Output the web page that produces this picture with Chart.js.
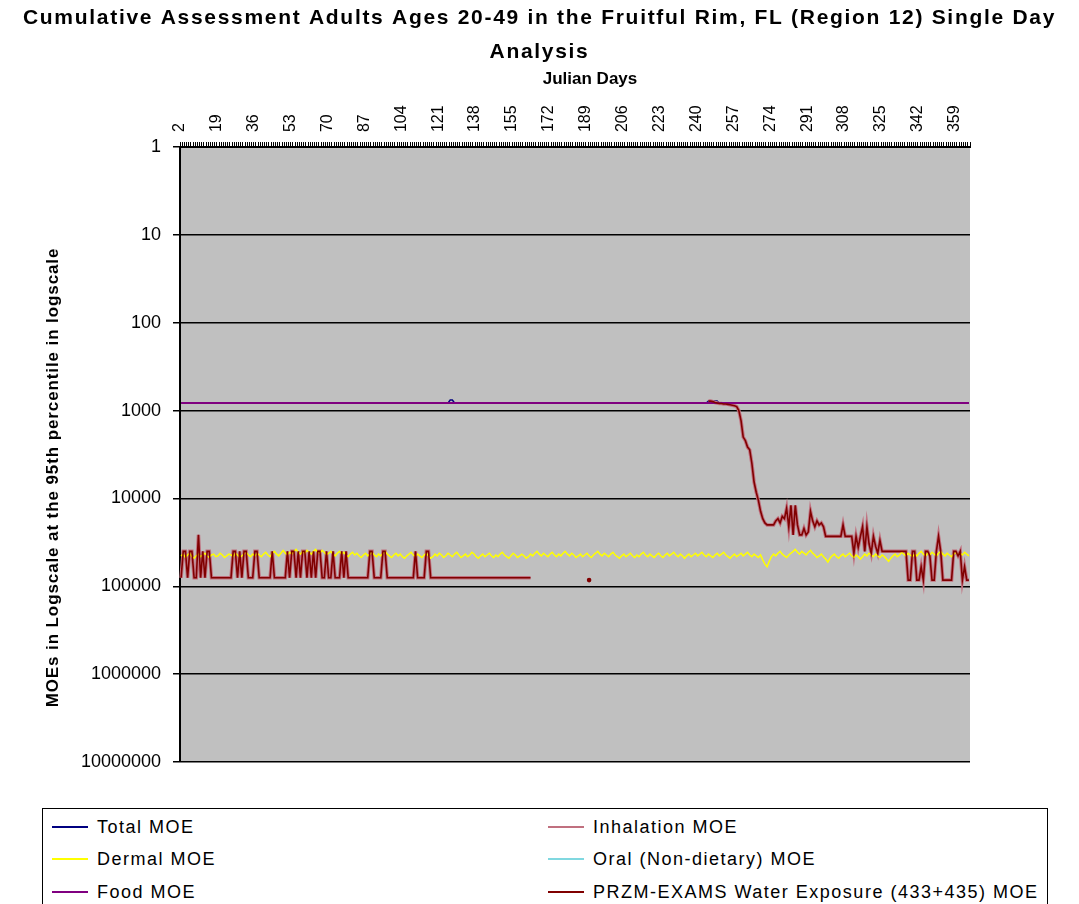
<!DOCTYPE html>
<html><head><meta charset="utf-8">
<script src="https://cdn.jsdelivr.net/npm/chart.js@4.4.1/dist/chart.umd.min.js"></script>
<style>
html,body{margin:0;padding:0;background:#fff;}
#wrap{position:relative;width:1079px;height:904px;overflow:hidden;}
#c{position:absolute;left:0;top:0;}
#legend{position:absolute;left:42px;top:808px;width:1006px;height:130px;border:1.5px solid #000;box-sizing:border-box;background:#fff;font-family:"Liberation Sans",Arial,sans-serif;font-size:18px;letter-spacing:1.5px;color:#000;}
.item{position:absolute;height:22px;line-height:22px;white-space:nowrap;}
.item .ln{position:absolute;left:0;top:10px;width:36px;height:0;border-top:2px solid;}
.item .tx{position:absolute;left:45px;top:0;}
</style></head>
<body>
<div id="wrap">
<canvas id="c" width="1079" height="904"></canvas>
<div id="legend"></div>
</div>
<script>
const titleLines = ["Cumulative Assessment Adults Ages 20-49 in the Fruitful Rim, FL (Region 12) Single Day", "Analysis"];
const xTitle = "Julian Days";
const yTitle = "MOEs in Logscale at the 95th percentile in logscale";

const julianDays = [
2,3,4,5,6,7,8,9,10,11,12,13,14,15,16,17,18,19,20,21,
22,23,24,25,26,27,28,29,30,31,32,33,34,35,36,37,38,39,40,41,
42,43,44,45,46,47,48,49,50,51,52,53,54,55,56,57,58,59,60,61,
62,63,64,65,66,67,68,69,70,71,72,73,74,75,76,77,78,79,80,81,
82,83,84,85,86,87,88,89,90,91,92,93,94,95,96,97,98,99,100,101,
102,103,104,105,106,107,108,109,110,111,112,113,114,115,116,117,118,119,120,121,
122,123,124,125,126,127,128,129,130,131,132,133,134,135,136,137,138,139,140,141,
142,143,144,145,146,147,148,149,150,151,152,153,154,155,156,157,158,159,160,161,
162,163,164,165,166,167,168,169,170,171,172,173,174,175,176,177,178,179,180,181,
182,183,184,185,186,187,188,189,190,191,192,193,194,195,196,197,198,199,200,201,
202,203,204,205,206,207,208,209,210,211,212,213,214,215,216,217,218,219,220,221,
222,223,224,225,226,227,228,229,230,231,232,233,234,235,236,237,238,239,240,241,
242,243,244,245,246,247,248,249,250,251,252,253,254,255,256,257,258,259,260,261,
262,263,264,265,266,267,268,269,270,271,272,273,274,275,276,277,278,279,280,281,
282,283,284,285,286,287,288,289,290,291,292,293,294,295,296,297,298,299,300,301,
302,303,304,305,306,307,308,309,310,311,312,313,314,315,316,317,318,319,320,321,
322,323,324,325,326,327,328,329,330,331,332,333,334,335,336,337,338,339,340,341,
342,343,344,345,346,347,348,349,350,351,352,353,354,355,356,357,358,359,360,361,
362,363,364,365];

const xTickLabels = [2,19,36,53,70,87,104,121,138,155,172,189,206,223,240,257,274,291,308,325,342,359];
const yTickValues = [1,10,100,1000,10000,100000,1000000,10000000];

const totalMOE = [
820,820,820,820,820,820,820,820,820,820,820,820,820,820,820,820,820,820,820,820,
820,820,820,820,820,820,820,820,820,820,820,820,820,820,820,820,820,820,820,820,
820,820,820,820,820,820,820,820,820,820,820,820,820,820,820,820,820,820,820,820,
820,820,820,820,820,820,820,820,820,820,820,820,820,820,820,820,820,820,820,820,
820,820,820,820,820,820,820,820,820,820,820,820,820,820,820,820,820,820,820,820,
820,820,820,820,820,820,820,820,820,820,820,820,820,820,820,820,820,820,820,820,
820,820,820,820,760,760,820,820,820,820,820,820,820,820,820,820,820,820,820,820,
820,820,820,820,820,820,820,820,820,820,820,820,820,820,820,820,820,820,820,820,
820,820,820,820,820,820,820,820,820,820,820,820,820,820,820,820,820,820,820,820,
820,820,820,820,820,820,820,820,820,820,820,820,820,820,820,820,820,820,820,820,
820,820,820,820,820,820,820,820,820,820,820,820,820,820,820,820,820,820,820,820,
820,820,820,820,820,820,820,820,820,820,820,820,820,820,820,820,820,820,820,820,
820,820,820,780,780,780,780,780,820,820,820,820,820,820,820,820,820,820,820,820,
820,820,820,820,820,820,820,820,820,820,820,820,820,820,820,820,820,820,820,820,
820,820,820,820,820,820,820,820,820,820,820,820,820,820,820,820,820,820,820,820,
820,820,820,820,820,820,820,820,820,820,820,820,820,820,820,820,820,820,820,820,
820,820,820,820,820,820,820,820,820,820,820,820,820,820,820,820,820,820,820,820,
820,820,820,820,820,820,820,820,820,820,820,820,820,820,820,820,820,820,820,820,
820,820,820,820];

const dermalMOE = [
45000,43000,47000,44000,42000,46000,48000,45000,43000,46000,44000,42000,45000,47000,44000,43000,46000,45000,42000,44000,
47000,45000,43000,44000,46000,42000,44000,47000,45000,43000,41000,44000,46000,43000,45000,42000,44000,46000,43000,41000,
44000,46000,42000,40000,43000,45000,42000,39000,42000,44000,41000,43000,40000,38000,41000,43000,40000,42000,39000,41000,
43000,40000,38000,41000,42000,39000,41000,44000,42000,40000,43000,45000,42000,40000,43000,41000,44000,46000,43000,41000,
44000,42000,45000,47000,44000,42000,45000,43000,41000,44000,46000,43000,45000,42000,40000,43000,45000,47000,44000,42000,
45000,43000,46000,48000,45000,43000,41000,44000,46000,43000,45000,47000,44000,42000,45000,48000,46000,43000,45000,42000,
44000,47000,45000,42000,44000,46000,43000,41000,44000,47000,45000,43000,46000,44000,41000,43000,46000,48000,45000,43000,
46000,44000,42000,45000,47000,44000,46000,43000,41000,44000,46000,48000,45000,42000,44000,47000,45000,43000,45000,48000,
46000,43000,45000,42000,40000,43000,45000,42000,44000,46000,43000,41000,44000,46000,43000,45000,42000,40000,43000,45000,
42000,44000,47000,45000,43000,46000,44000,42000,45000,47000,44000,42000,40000,43000,45000,42000,44000,46000,43000,41000,
44000,46000,48000,45000,43000,46000,44000,42000,45000,47000,44000,46000,43000,41000,44000,46000,43000,45000,47000,44000,
42000,45000,47000,44000,42000,45000,43000,41000,44000,46000,43000,45000,48000,45000,43000,46000,44000,42000,45000,43000,
41000,44000,46000,43000,45000,47000,44000,42000,45000,43000,41000,44000,46000,48000,45000,43000,46000,44000,42000,45000,
43000,41000,44000,46000,43000,45000,47000,44000,50000,56000,60000,52000,46000,43000,45000,42000,40000,43000,45000,47000,
44000,42000,40000,38000,41000,43000,40000,42000,44000,41000,39000,42000,44000,47000,45000,43000,46000,49000,53000,48000,
45000,43000,46000,48000,45000,43000,46000,44000,42000,45000,47000,44000,46000,49000,46000,43000,45000,42000,44000,46000,
43000,45000,47000,44000,46000,49000,52000,48000,45000,43000,46000,44000,41000,43000,45000,42000,44000,46000,43000,45000,
42000,40000,43000,45000,42000,44000,41000,43000,45000,42000,40000,43000,45000,42000,44000,46000,43000,41000,44000,42000,
44000,41000,43000,45000];

const foodMOE = [
820,820,820,820,820,820,820,820,820,820,820,820,820,820,820,820,820,820,820,820,
820,820,820,820,820,820,820,820,820,820,820,820,820,820,820,820,820,820,820,820,
820,820,820,820,820,820,820,820,820,820,820,820,820,820,820,820,820,820,820,820,
820,820,820,820,820,820,820,820,820,820,820,820,820,820,820,820,820,820,820,820,
820,820,820,820,820,820,820,820,820,820,820,820,820,820,820,820,820,820,820,820,
820,820,820,820,820,820,820,820,820,820,820,820,820,820,820,820,820,820,820,820,
820,820,820,820,820,820,820,820,820,820,820,820,820,820,820,820,820,820,820,820,
820,820,820,820,820,820,820,820,820,820,820,820,820,820,820,820,820,820,820,820,
820,820,820,820,820,820,820,820,820,820,820,820,820,820,820,820,820,820,820,820,
820,820,820,820,820,820,820,820,820,820,820,820,820,820,820,820,820,820,820,820,
820,820,820,820,820,820,820,820,820,820,820,820,820,820,820,820,820,820,820,820,
820,820,820,820,820,820,820,820,820,820,820,820,820,820,820,820,820,820,820,820,
820,820,820,820,820,820,820,820,820,820,820,820,820,820,820,820,820,820,820,820,
820,820,820,820,820,820,820,820,820,820,820,820,820,820,820,820,820,820,820,820,
820,820,820,820,820,820,820,820,820,820,820,820,820,820,820,820,820,820,820,820,
820,820,820,820,820,820,820,820,820,820,820,820,820,820,820,820,820,820,820,820,
820,820,820,820,820,820,820,820,820,820,820,820,820,820,820,820,820,820,820,820,
820,820,820,820,820,820,820,820,820,820,820,820,820,820,820,820,820,820,820,820,
820,820,820,820];

const przmWaterMOE = [
8e4,4e4,4e4,8e4,4e4,4e4,8e4,8e4,2.6e4,8e4,4e4,8e4,4e4,4e4,8e4,8e4,8e4,8e4,8e4,8e4,
8e4,8e4,8e4,8e4,4e4,4e4,8e4,4e4,8e4,4e4,4e4,8e4,8e4,8e4,4e4,4e4,8e4,8e4,8e4,8e4,
8e4,8e4,4e4,8e4,8e4,8e4,8e4,8e4,8e4,4e4,8e4,4e4,4e4,8e4,4e4,8e4,4e4,4e4,8e4,4e4,
8e4,4e4,8e4,4e4,4e4,8e4,8e4,4e4,8e4,8e4,4e4,8e4,8e4,8e4,4e4,8e4,4e4,8e4,8e4,8e4,
8e4,8e4,8e4,8e4,8e4,8e4,8e4,4e4,4e4,8e4,8e4,8e4,8e4,4e4,4e4,8e4,8e4,8e4,8e4,8e4,
8e4,8e4,8e4,8e4,8e4,8e4,8e4,8e4,4e4,8e4,8e4,8e4,8e4,4e4,4e4,8e4,8e4,8e4,8e4,8e4,
8e4,8e4,8e4,8e4,8e4,8e4,8e4,8e4,8e4,8e4,8e4,8e4,8e4,8e4,8e4,8e4,8e4,8e4,8e4,8e4,
8e4,8e4,8e4,8e4,8e4,8e4,8e4,8e4,8e4,8e4,8e4,8e4,8e4,8e4,8e4,8e4,8e4,8e4,8e4,8e4,
8e4,8e4,null,null,null,null,null,null,null,null,null,null,null,null,null,null,null,null,null,null,
null,null,null,null,null,null,null,null,8.5e4,null,null,null,null,null,null,null,null,null,null,null,
null,null,null,null,null,null,null,null,null,null,null,null,null,null,null,null,null,null,null,null,
null,null,null,null,null,null,null,null,null,null,null,null,null,null,null,null,null,null,null,null,
null,null,null,780,780,790,810,820,830,830,840,840,850,860,870,880,900,1000,1300,2000,
2200,2600,2800,4000,6500,8500,10500,14000,17000,19000,20000,20000,20000,20000,18000,17000,19000,16000,17000,13000,
21000,12000,26000,12000,20000,26000,26000,22000,26000,24000,14000,18000,21000,18000,20000,19000,21000,27000,27000,27000,
27000,27000,27000,27000,27000,20000,27000,27000,27000,27000,42000,27000,36000,27000,21000,40000,21000,33000,42000,27000,
35000,42000,30000,40000,40000,40000,40000,40000,40000,40000,40000,40000,40000,40000,40000,85000,85000,40000,40000,85000,
85000,60000,85000,40000,40000,45000,85000,85000,40000,27000,40000,85000,85000,85000,85000,85000,40000,40000,45000,40000,
85000,60000,85000,85000];

// Inhalation MOE runs underneath the water-exposure line in the picture
const inhalationMOE = przmWaterMOE.slice();
// Oral (non-dietary) MOE draws no visible line in the picture
const oralMOE = [];

const seriesNames = ["Total MOE","Dermal MOE","Food MOE","Inhalation MOE","Oral (Non-dietary) MOE","PRZM-EXAMS Water Exposure (433+435) MOE"];
const seriesColors = ["#000080","#FFFF00","#800080","#c0707f","#80d8e0","#800000"];

const isolatedRadius = (c) => {
  const d = c.dataset.data, i = c.dataIndex;
  if (d[i] == null) return 0;
  const prev = i > 0 ? d[i-1] : null, next = i < d.length-1 ? d[i+1] : null;
  return (prev == null && next == null) ? 1.5 : 0;
};

const plotBg = {
  id: 'plotBg',
  beforeDraw(chart) {
    const {ctx, chartArea: a} = chart;
    ctx.save();
    ctx.fillStyle = '#c0c0c0';
    ctx.fillRect(a.left, a.top, a.right - a.left, a.bottom - a.top);
    ctx.restore();
  }
};

// Text tweaks: wider letter spacing and positions like the original Excel rendering
const textTweaks = {
  id: 'textTweaks',
  beforeDraw(chart) {
    if (chart.$tweaked) return;
    chart.$tweaked = true;
    const ctx = chart.ctx;
    const tb = chart.titleBlock;
    const tOrig = tb.draw;
    tb.draw = function (area) {
      this.left = 0; this.right = chart.width; this.width = chart.width;
      ctx.save(); ctx.letterSpacing = '1.7px'; tOrig.call(this, area); ctx.restore();
    };
    const ys = chart.scales.y;
    const yOrig = ys.drawTitle;
    ys.drawTitle = function () {
      const t = this.top, b = this.bottom;
      this.top += 23; this.bottom += 23;
      ctx.save(); ctx.letterSpacing = '0.9px'; yOrig.call(this); ctx.restore();
      this.top = t; this.bottom = b;
    };
    const xs = chart.scales.x;
    const xOrig = xs.drawTitle;
    xs.drawTitle = function () {
      const l = this.left, r = this.right;
      this.left += 15; this.right += 15;
      xOrig.call(this);
      this.left = l; this.right = r;
    };
  }
};

const FONT = '"Liberation Sans", Arial, sans-serif';
const seriesData = [totalMOE, dermalMOE, foodMOE, inhalationMOE, oralMOE, przmWaterMOE];
const widths = [1.5, 1.5, 2, 3.5, 1.5, 1.6];
const orders = [6, 4, 3, 5, 2, 1];

const chart = new Chart(document.getElementById('c'), {
  type: 'line',
  data: {
    labels: julianDays,
    datasets: seriesData.map((d, i) => ({
      label: seriesNames[i],
      data: d,
      borderColor: seriesColors[i],
      backgroundColor: seriesColors[i],
      borderWidth: widths[i],
      pointRadius: i === 5 ? isolatedRadius : 0,
      pointHoverRadius: 0,
      tension: 0,
      spanGaps: false,
      fill: false,
      order: orders[i]
    }))
  },
  options: {
    responsive: false,
    animation: false,
    layout: { padding: { left: 0, right: 109, top: 0, bottom: 142 } },
    plugins: {
      legend: { display: false },
      tooltip: { enabled: false },
      title: {
        display: true,
        text: titleLines,
        color: '#000',
        font: { family: FONT, size: 21, weight: 'bold', lineHeight: 1.62 },
        padding: { top: 1, bottom: 0 }
      }
    },
    scales: {
      x: {
        type: 'category',
        position: 'top',
        offset: true,
        grid: { display: true, drawOnChartArea: false, drawTicks: true, tickLength: 5, color: '#000', lineWidth: 1, offset: true },
        border: { display: true, color: '#000', width: 2 },
        ticks: {
          autoSkip: false,
          minRotation: 90,
          maxRotation: 90,
          padding: 10,
          labelOffset: 18,
          color: '#000',
          font: { family: FONT, size: 16 },
          callback: function (v) {
            const d = this.getLabelForValue(v);
            return xTickLabels.includes(d) ? String(d) : '';
          }
        },
        title: { display: true, text: xTitle, color: '#000', font: { family: FONT, size: 17, weight: 'bold' }, padding: { top: 0, bottom: 0 } },
        afterFit: (s) => { s.height = 78; }
      },
      y: {
        type: 'logarithmic',
        reverse: true,
        min: 1,
        max: 10000000,
        afterBuildTicks: (s) => { s.ticks = yTickValues.map(v => ({ value: v })); },
        ticks: {
          autoSkip: false,
          padding: 12,
          color: '#000',
          font: { family: FONT, size: 18 },
          callback: (v) => String(v)
        },
        grid: { display: true, color: '#000', lineWidth: 1.5, drawTicks: true, tickLength: 7 },
        border: { display: true, color: '#000', width: 2 },
        title: { display: true, text: yTitle, color: '#000', font: { family: FONT, size: 17, weight: 'bold' }, padding: { top: 43, bottom: 0 } },
        afterFit: (s) => { s.width = 180; }
      }
    }
  },
  plugins: [plotBg, textTweaks]
});

// HTML legend built from the chart's datasets (two columns, like the original)
const legendEl = document.getElementById('legend');
const colLeft = [9, 505];
const rowTop = [7, 39, 72];
chart.data.datasets.forEach((ds, i) => {
  const it = document.createElement('div');
  it.className = 'item';
  it.style.left = colLeft[Math.floor(i / 3)] + 'px';
  it.style.top = rowTop[i % 3] + 'px';
  const ln = document.createElement('span');
  ln.className = 'ln';
  ln.style.borderTopColor = ds.borderColor;
  const tx = document.createElement('span');
  tx.className = 'tx';
  tx.textContent = ds.label;
  it.appendChild(ln);
  it.appendChild(tx);
  legendEl.appendChild(it);
});
</script>
</body></html>
